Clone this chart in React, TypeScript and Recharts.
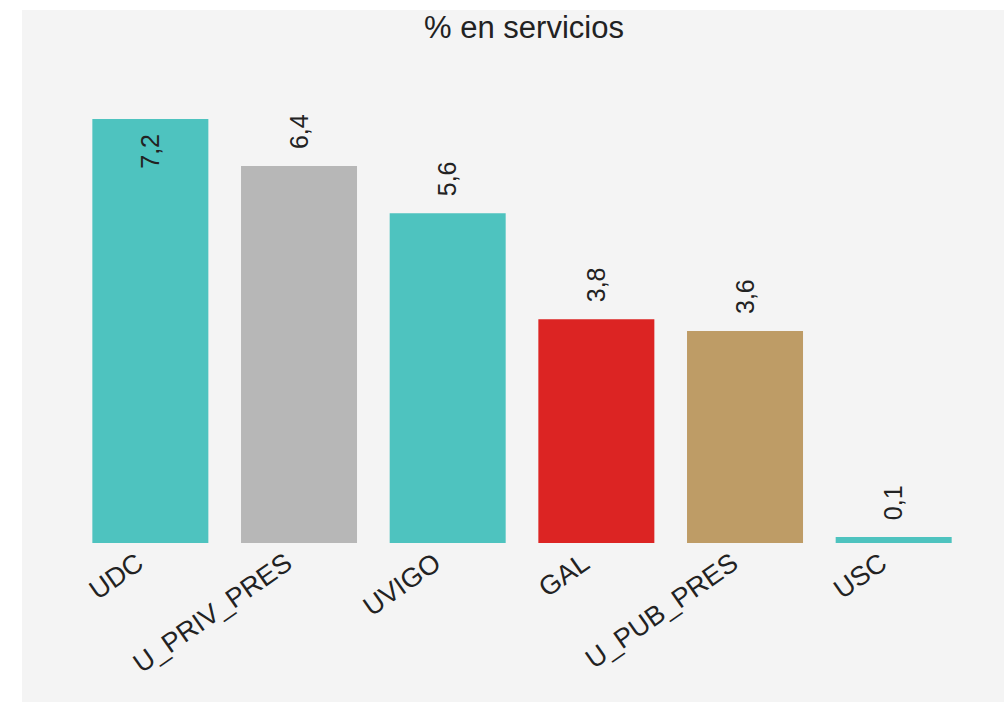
import { BarChart, Bar, XAxis, YAxis, Cell, LabelList } from 'recharts';

const categories = ['UDC', 'U_PRIV_PRES', 'UVIGO', 'GAL', 'U_PUB_PRES', 'USC'];
const values = [7.2, 6.4, 5.6, 3.8, 3.6, 0.1];
const colors = ['#4EC3BF', '#B7B7B7', '#4EC3BF', '#DC2423', '#BE9C66', '#4EC3BF'];

const data = categories.map((name, i) => ({ name, value: values[i] }));
const maxValue = Math.max(...values);

const FONT = '"Liberation Sans", Arial, sans-serif';

const fmt = (v: number) => v.toFixed(1).replace('.', ',');

function Tick(props: any) {
  const { x, y, payload } = props;
  const tx = x - 5;
  const ty = y + 16;
  return (
    <text
      x={tx}
      y={ty}
      textAnchor="end"
      transform={`rotate(-35, ${tx}, ${ty})`}
      fontSize={27}
      fontFamily={FONT}
      fill="#222"
    >
      {payload.value}
    </text>
  );
}

function ValueLabel(props: any) {
  const { x, y, width, value } = props;
  const cx = x + width / 2;
  const inside = value >= maxValue;
  const ty = inside ? y + 15 : y - 17;
  return (
    <text
      x={cx}
      y={ty}
      dy="0.35em"
      textAnchor={inside ? 'end' : 'start'}
      transform={`rotate(-90, ${cx}, ${ty})`}
      fontSize={25}
      fontFamily={FONT}
      fill="#222"
    >
      {fmt(value)}
    </text>
  );
}

export default function App() {
  return (
    <div style={{ position: 'absolute', left: 0, top: 0, width: 1004, height: 702, background: '#fff' }}>
      <div style={{ position: 'absolute', left: 22, top: 10, width: 982, height: 692, background: '#F4F4F4' }}>
        <div
          style={{
            position: 'absolute',
            left: 0,
            width: 982,
            top: 0,
            textAlign: 'center',
            fontFamily: FONT,
            fontSize: 31,
            color: '#222',
            paddingLeft: 22,
            boxSizing: 'border-box',
          }}
        >
          % en servicios
        </div>
        <BarChart
          width={982}
          height={692}
          data={data}
          margin={{ top: 109, right: 36, left: 54, bottom: 0 }}
          barCategoryGap="11%"
        >
          <XAxis
            dataKey="name"
            axisLine={false}
            tickLine={false}
            interval={0}
            height={159}
            tick={<Tick />}
          />
          <YAxis hide domain={[0, 'dataMax']} />
          <Bar dataKey="value" isAnimationActive={false}>
            {data.map((d, i) => (
              <Cell key={d.name} fill={colors[i]} />
            ))}
            <LabelList dataKey="value" content={<ValueLabel />} />
          </Bar>
        </BarChart>
      </div>
    </div>
  );
}
